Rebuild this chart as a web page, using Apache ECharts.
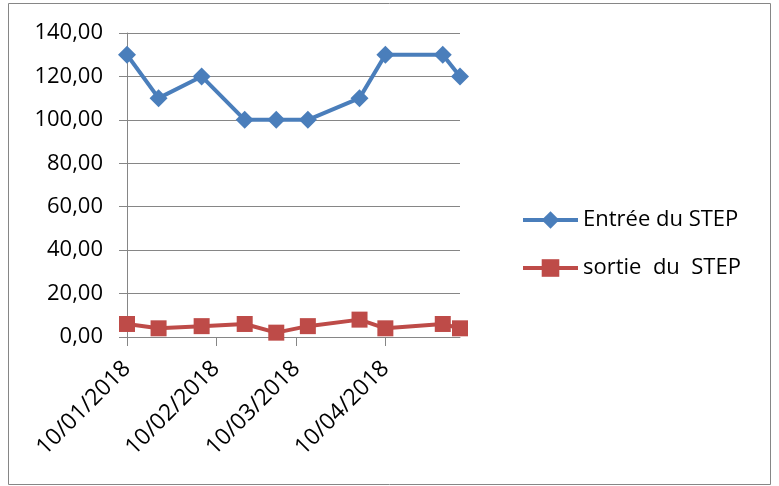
<!DOCTYPE html>
<html>
<head>
<meta charset="utf-8">
<script src="https://cdn.jsdelivr.net/npm/echarts@6/dist/echarts.min.js"></script>
<style>
  html, body { margin: 0; padding: 0; background: #fff; }
  #chart { width: 779px; height: 486px; }
</style>
</head>
<body>
<div id="chart"></div>
<script>
// Sampling dates and measured values
const dates = ['2018-01-10', '2018-01-21', '2018-02-05', '2018-02-20', '2018-03-03',
               '2018-03-14', '2018-04-01', '2018-04-10', '2018-04-30', '2018-05-06'];
const entree = [130, 110, 120, 100, 100, 100, 110, 130, 130, 120];
const sortie = [6, 4, 5, 6, 2, 5, 8, 4, 6, 4];
const seriesNames = ['Entrée du STEP', 'sortie  du  STEP'];
// Month ticks on the 10th of each month
const tickDates = ['2018-01-10', '2018-02-10', '2018-03-10', '2018-04-10'];

// Dates are placed on a linear day scale (days since 1970-01-01, UTC)
function toDay(s) {
  const p = s.split('-').map(Number);
  return Math.round(Date.UTC(p[0], p[1] - 1, p[2]) / 86400000);
}
function pad(n) { return (n < 10 ? '0' : '') + n; }
function fmtDay(v) {
  const d = new Date(Math.round(v) * 86400000);
  return pad(d.getUTCDate()) + '/' + pad(d.getUTCMonth() + 1) + '/' + d.getUTCFullYear();
}

const FONT = 'Open Sans';
const GREY = '#868686';
const BLUE = '#4A7EBB';
const RED = '#BE4B48';
const tickValues = tickDates.map(toDay);

const chart = echarts.init(document.getElementById('chart'), null, { renderer: 'canvas' });
chart.setOption({
  animation: false,
  backgroundColor: '#fff',
  textStyle: { fontFamily: FONT },
  graphic: [{
    type: 'rect',
    shape: { x: 8.5, y: 3.5, width: 762, height: 481 },
    style: { fill: 'none', stroke: GREY, lineWidth: 1 },
    silent: true
  }],
  grid: { left: 127, right: 319, top: 33, bottom: 149, containLabel: false },
  legend: {
    orient: 'vertical',
    left: 521,
    top: 209,
    padding: 0,
    itemWidth: 55,
    itemHeight: 22,
    itemGap: 26,
    lineStyle: { width: 4 },
    textStyle: { fontFamily: FONT, fontSize: 22, color: '#000', lineHeight: 22 },
    data: seriesNames
  },
  xAxis: {
    type: 'value',
    min: toDay(dates[0]),
    max: toDay(dates[dates.length - 1]),
    axisLine: { show: true, onZero: false, lineStyle: { color: GREY, width: 1 } },
    axisTick: { show: true, length: 9, customValues: tickValues, lineStyle: { color: GREY } },
    splitLine: { show: false },
    axisLabel: {
      customValues: tickValues,
      rotate: 45,
      margin: 28,
      fontFamily: FONT,
      fontSize: 23,
      color: '#000',
      formatter: fmtDay
    }
  },
  yAxis: {
    type: 'value',
    min: 0,
    max: 140,
    interval: 20,
    axisLine: { show: true, lineStyle: { color: GREY, width: 1 } },
    axisTick: { show: true, length: 8, lineStyle: { color: GREY } },
    splitLine: { show: true, lineStyle: { color: GREY, width: 1 } },
    axisLabel: {
      margin: 24,
      fontFamily: FONT,
      fontSize: 22,
      color: '#000',
      formatter: v => v.toFixed(2).replace('.', ',')
    }
  },
  series: [
    {
      name: seriesNames[0],
      type: 'line',
      data: dates.map((d, i) => [toDay(d), entree[i]]),
      symbol: 'diamond',
      symbolSize: 18,
      clip: false,
      lineStyle: { color: BLUE, width: 4 },
      itemStyle: { color: BLUE }
    },
    {
      name: seriesNames[1],
      type: 'line',
      data: dates.map((d, i) => [toDay(d), sortie[i]]),
      symbol: 'rect',
      symbolSize: 16,
      clip: false,
      lineStyle: { color: RED, width: 4 },
      itemStyle: { color: RED }
    }
  ]
});
</script>
</body>
</html>
